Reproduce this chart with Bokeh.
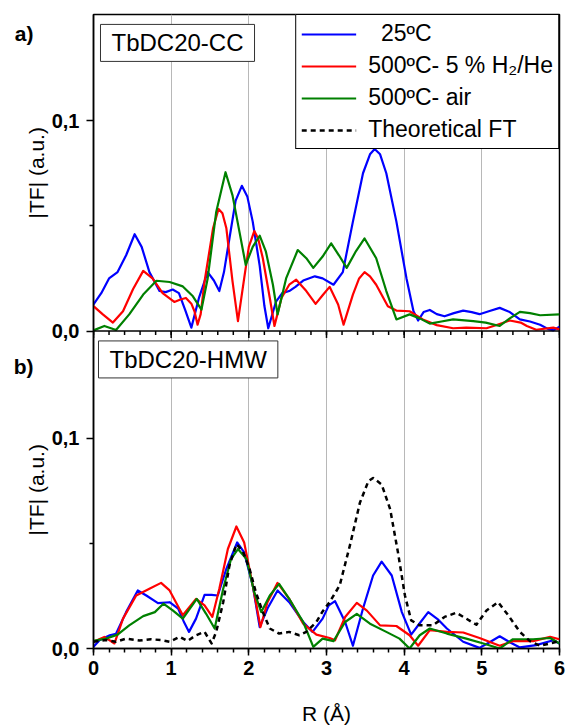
from bokeh.plotting import figure
from bokeh.models import (Range1d, FixedTicker, LinearAxis, Label, Span, CustomJSTickFormatter)
from bokeh.embed import file_html
from bokeh.resources import INLINE

FONT = "Liberation Sans"

# ---------------- data: panel a) TbDC20-CC ----------------
cc_25_r = [0, 0.1, 0.2, 0.31, 0.42, 0.53, 0.62, 0.72, 0.85, 0.93, 1.02, 1.1, 1.18, 1.26, 1.36, 1.47,
           1.55, 1.62, 1.68, 1.75, 1.83, 1.91, 1.98, 2.05, 2.14, 2.2, 2.25, 2.35, 2.43, 2.52, 2.6, 2.7,
           2.85, 2.95, 3.09, 3.21, 3.34, 3.47, 3.56, 3.62, 3.69, 3.77, 3.9, 4.03, 4.12, 4.18, 4.25, 4.33,
           4.42, 4.52, 4.64, 4.76, 4.87, 4.97, 5.1, 5.23, 5.36, 5.49, 5.62, 5.75, 5.85, 5.92, 6.0]
cc_25_v = [0.0126, 0.018, 0.025, 0.028, 0.036, 0.046, 0.040, 0.028, 0.019, 0.0185, 0.0197, 0.018, 0.010,
           0.0016, 0.016, 0.028, 0.024, 0.019, 0.028, 0.044, 0.062, 0.069, 0.064, 0.052, 0.031, 0.012,
           0.0013, 0.014, 0.018, 0.019, 0.021, 0.024, 0.026, 0.025, 0.022, 0.028, 0.052, 0.075, 0.084,
           0.0865, 0.084, 0.075, 0.052, 0.025, 0.0094, 0.005, 0.009, 0.010, 0.008, 0.007, 0.0085, 0.0097,
           0.009, 0.008, 0.0095, 0.011, 0.009, 0.0055, 0.0045, 0.003, 0.001, 0.0003, 0.002]

cc_h2_r = [0, 0.12, 0.25, 0.38, 0.51, 0.64, 0.76, 0.89, 1.04, 1.12, 1.19, 1.26, 1.3, 1.34, 1.38, 1.43,
           1.54, 1.61, 1.66, 1.71, 1.79, 1.86, 1.94, 2.0, 2.07, 2.12, 2.18, 2.27, 2.33, 2.42, 2.52, 2.61,
           2.74, 2.86, 2.95, 3.04, 3.15, 3.22, 3.34, 3.42, 3.49, 3.56, 3.64, 3.79, 3.9, 4.07, 4.24, 4.42,
           4.63, 4.8, 5.06, 5.2, 5.36, 5.5, 5.58, 5.7, 5.92, 6.0]
cc_h2_v = [0.0118, 0.0079, 0.004, 0.0094, 0.020, 0.0286, 0.025, 0.018, 0.0138, 0.015, 0.0157, 0.013,
           0.0094, 0.003, 0.008, 0.0236, 0.049, 0.058, 0.056, 0.049, 0.0236, 0.0047, 0.025, 0.040, 0.0475,
           0.044, 0.0346, 0.0157, 0.0024, 0.0157, 0.022, 0.0244, 0.019, 0.0129, 0.017, 0.021, 0.0126,
           0.003, 0.0173, 0.025, 0.028, 0.026, 0.022, 0.0118, 0.0097, 0.0094, 0.0055, 0.0028, 0.0013,
           0.0016, 0.0013, 0.003, 0.005, 0.004, 0.0024, 0.0006, 0.0016, 0.0008]

cc_air_r = [0, 0.14, 0.29, 0.46, 0.64, 0.81, 0.98, 1.15, 1.28, 1.39, 1.47, 1.58, 1.7, 1.79, 1.88, 1.96,
            2.05, 2.14, 2.22, 2.31, 2.37, 2.48, 2.63, 2.74, 2.83, 2.95, 3.06, 3.16, 3.26, 3.38, 3.49, 3.64,
            3.77, 3.9, 4.07, 4.2, 4.33, 4.48, 4.63, 4.89, 5.05, 5.23, 5.36, 5.49, 5.62, 5.75, 6.0]
cc_air_v = [0.0003, 0.0024, 0.0005, 0.0079, 0.0173, 0.0239, 0.0233, 0.0212, 0.0165, 0.0102, 0.025,
            0.0566, 0.0755, 0.0645, 0.047, 0.0314, 0.040, 0.0453, 0.0377, 0.022, 0.0079, 0.025, 0.0385,
            0.0346, 0.030, 0.0354, 0.0417, 0.036, 0.030, 0.038, 0.044, 0.0346, 0.019, 0.0055, 0.0079,
            0.006, 0.0035, 0.0045, 0.0055, 0.0047, 0.004, 0.0024, 0.006, 0.0091, 0.0085, 0.0075, 0.0079]

# ---------------- data: panel b) TbDC20-HMW ----------------
hmw_25_r = [0, 0.08, 0.21, 0.29, 0.42, 0.57, 0.68, 0.83, 0.98, 1.09, 1.16, 1.23, 1.32, 1.43, 1.52, 1.6,
            1.71, 1.85, 1.94, 2.05, 2.14, 2.24, 2.37, 2.52, 2.7, 2.82, 2.95, 3.03, 3.11, 3.24, 3.34, 3.47,
            3.6, 3.71, 3.84, 3.97, 4.09, 4.2, 4.31, 4.43, 4.55, 4.76, 4.97, 5.1, 5.23, 5.36, 5.49, 5.7,
            5.92, 6.0]
hmw_25_v = [0.0008, 0.004, 0.0063, 0.007, 0.0173, 0.0276, 0.0252, 0.0216, 0.022, 0.019, 0.013, 0.0079,
            0.0142, 0.0255, 0.0255, 0.0252, 0.0378, 0.0504, 0.0457, 0.030, 0.0102, 0.019, 0.0276, 0.022,
            0.0126, 0.0079, 0.0142, 0.0205, 0.0225, 0.0126, 0.0013, 0.019, 0.0347, 0.0413, 0.0347,
            0.0173, 0.0066, 0.012, 0.0173, 0.014, 0.0095, 0.0032, 0.0003, 0.003, 0.0058, 0.003, 0.0005,
            0.0016, 0.0039, 0.0024]

hmw_h2_r = [0, 0.14, 0.27, 0.38, 0.55, 0.72, 0.87, 0.98, 1.15, 1.32, 1.43, 1.53, 1.62, 1.73, 1.84, 1.94,
            2.05, 2.15, 2.24, 2.37, 2.52, 2.7, 2.87, 3.04, 3.11, 3.24, 3.39, 3.52, 3.69, 3.9, 4.07, 4.18,
            4.33, 4.55, 4.76, 4.97, 5.23, 5.4, 5.66, 5.88, 6.0]
hmw_h2_v = [0.0032, 0.0055, 0.0024, 0.0142, 0.0252, 0.0284, 0.0312, 0.0276, 0.0158, 0.0236, 0.0205,
            0.015, 0.0284, 0.0473, 0.058, 0.0504, 0.030, 0.0102, 0.022, 0.0312, 0.0236, 0.0118, 0.0066,
            0.005, 0.0039, 0.015, 0.0217, 0.018, 0.011, 0.0107, 0.0063, 0.0013, 0.0087, 0.0079, 0.0076,
            0.005, 0.0013, 0.0035, 0.0035, 0.0055, 0.0044]

hmw_air_r = [0, 0.16, 0.31, 0.46, 0.64, 0.79, 0.9, 1.02, 1.15, 1.33, 1.45, 1.56, 1.67, 1.77, 1.86, 1.97,
             2.07, 2.16, 2.27, 2.39, 2.52, 2.7, 2.83, 2.95, 3.09, 3.24, 3.39, 3.56, 3.77, 3.94, 4.07, 4.2,
             4.33, 4.55, 4.8, 5.02, 5.23, 5.4, 5.66, 5.88, 6.0]
hmw_air_v = [0.0036, 0.0047, 0.0066, 0.011, 0.0154, 0.0173, 0.0213, 0.0181, 0.0142, 0.0236, 0.0165,
             0.0095, 0.0284, 0.0425, 0.0473, 0.0425, 0.0268, 0.0173, 0.0252, 0.0307, 0.0236, 0.0126,
             0.0008, 0.0047, 0.0035, 0.0126, 0.0165, 0.0118, 0.0079, 0.0047, 0.0, 0.0063, 0.0095, 0.0071,
             0.0047, 0.0024, 0.0, 0.0044, 0.0044, 0.005, 0.0024]

hmw_theo_r = [0, 0.16, 0.29, 0.42, 0.59, 0.74, 0.87, 0.98, 1.11, 1.21, 1.32, 1.43, 1.52, 1.58, 1.67, 1.75,
              1.84, 1.92, 2.01, 2.09, 2.18, 2.27, 2.39, 2.52, 2.65, 2.74, 2.87, 2.95, 3.04, 3.17, 3.3,
              3.43, 3.54, 3.6, 3.71, 3.82, 3.92, 4.01, 4.09, 4.2, 4.37, 4.52, 4.67, 4.8, 4.93, 5.06,
              5.21, 5.34, 5.49, 5.62, 5.75, 5.88, 6.0]
hmw_theo_v = [0.0032, 0.004, 0.0032, 0.0047, 0.0038, 0.0044, 0.004, 0.0032, 0.0055, 0.0036, 0.0063,
              0.0079, 0.0024, 0.0079, 0.022, 0.0394, 0.0496, 0.0465, 0.0378, 0.0268, 0.0173, 0.0095,
              0.0071, 0.0079, 0.0063, 0.0079, 0.0126, 0.0176, 0.022, 0.030, 0.0488, 0.0693, 0.0796,
              0.0811, 0.078, 0.0662, 0.0457, 0.0252, 0.0134, 0.011, 0.011, 0.015, 0.017, 0.0142, 0.0113,
              0.0181, 0.022, 0.0158, 0.0079, 0.0035, 0.0013, 0.0024, 0.0035]

# ---------------- axes / labels ----------------
x_major = [0, 1, 2, 3, 4, 5, 6]
x_minor = [i / 5 for i in range(31)]
grid_ticks = [1, 2, 3, 4, 5]
y_major = [0.0, 0.1]
y_minor = [0.05]

series_names = ["\u00a0\u00a025ºC", "500ºC- 5 % H₂/He", "500ºC- air", "Theoretical FT"]
colors = ["#0000ff", "#ff0000", "#008000", "black"]
panel_names = ["TbDC20-CC", "TbDC20-HMW"]
panel_letters = ["a)", "b)"]
y_title = "|TF| (a.u.)"

# layout of the two stacked panels (panel a sits on top of panel b, same scale)
W, H = 566, 727
FRAME_L, FRAME_R, FRAME_T, FRAME_B = 93, 559, 14, 653
FRAME_H = FRAME_B - FRAME_T
PX = 2120.0                      # pixels per unit of |TF|
OFF = (FRAME_B - 333) / PX       # panel a zero line, in panel-b units
Y_END = FRAME_H / PX

p = figure(width=W, height=H, x_range=Range1d(0, 6), y_range=Range1d(0, Y_END),
           output_backend="svg", toolbar_location=None,
           min_border_left=FRAME_L, min_border_right=W - FRAME_R,
           min_border_top=FRAME_T, min_border_bottom=H - FRAME_B)
p.extra_y_ranges = {"top": Range1d(-OFF, Y_END - OFF)}
p.outline_line_color = "black"
p.outline_line_width = 1.5
p.outline_line_alpha = 1
p.background_fill_color = "white"
p.border_fill_color = "white"
p.ygrid.visible = False
p.xgrid.ticker = FixedTicker(ticks=grid_ticks)
p.xgrid.grid_line_color = "#b8b8b8"
p.xgrid.grid_line_width = 1

# main y axis: tick labels of both panels
ya = p.yaxis[0]
ya.ticker = FixedTicker(ticks=y_major + [v + OFF for v in y_major],
                        minor_ticks=y_minor + [v + OFF for v in y_minor])
ya.formatter = CustomJSTickFormatter(args=dict(off=OFF), code="""
    let v = tick;
    if (v > off - 1e-6) { v = v - off; }
    return Math.abs(v).toFixed(1).replace('.', ',');
""")
ya.major_tick_out = 7
ya.major_tick_in = 0
ya.minor_tick_out = 4
ya.minor_tick_in = 0
ya.axis_line_width = 1.5
ya.major_tick_line_width = 1.5
ya.minor_tick_line_width = 1.5
ya.major_label_text_font = FONT
ya.major_label_text_font_size = "20px"
ya.major_label_text_font_style = "bold"
ya.major_label_text_color = "black"
ya.major_label_standoff = 7

# y titles, one per panel, centred on each panel
title_pos = [(FRAME_B - (FRAME_T + 333) / 2) / PX, (FRAME_B - (333 + FRAME_B) / 2) / PX]
yt = LinearAxis(ticker=FixedTicker(ticks=title_pos, minor_ticks=[]),
                formatter=CustomJSTickFormatter(args=dict(t=y_title), code="return t;"),
                major_tick_out=0, major_tick_in=0, minor_tick_out=0, minor_tick_in=0,
                axis_line_color=None, major_label_orientation="vertical",
                major_label_standoff=0, major_label_text_font=FONT,
                major_label_text_font_size="21px", major_label_text_color="black")
p.add_layout(yt, "left")

# panel letters a), b)
letter_pos = [(FRAME_B - 33.5) / PX, (FRAME_B - 369) / PX]
yl = LinearAxis(ticker=FixedTicker(ticks=letter_pos, minor_ticks=[]),
                formatter=CustomJSTickFormatter(args=dict(pos=letter_pos, names=panel_letters), code="""
                    let best = 0;
                    for (let i = 0; i < pos.length; i++) {
                        if (Math.abs(pos[i] - tick) < Math.abs(pos[best] - tick)) { best = i; }
                    }
                    return names[best];
                """),
                major_tick_out=0, major_tick_in=0, minor_tick_out=0, minor_tick_in=0,
                axis_line_color=None, major_label_standoff=-11, major_label_text_font=FONT,
                major_label_text_font_size="21px", major_label_text_font_style="bold",
                major_label_text_color="black")
p.add_layout(yl, "left")

# x axis
xa = p.xaxis[0]
xa.ticker = FixedTicker(ticks=x_major, minor_ticks=x_minor)
xa.major_tick_out = 7
xa.major_tick_in = 0
xa.minor_tick_out = 4
xa.minor_tick_in = 0
xa.axis_line_width = 1.5
xa.major_tick_line_width = 1.5
xa.minor_tick_line_width = 1.5
xa.major_label_text_font = FONT
xa.major_label_text_font_size = "20px"
xa.major_label_text_font_style = "bold"
xa.major_label_text_color = "black"
xa.major_label_standoff = 5
xa.axis_label = "R (Å)"
xa.axis_label_text_font = FONT
xa.axis_label_text_font_size = "21px"
xa.axis_label_text_font_style = "normal"
xa.axis_label_text_color = "black"
xa.axis_label_standoff = 24

# panel a) bottom axis line with ticks pointing down into panel b)
p.add_layout(Span(location=OFF, dimension="width", line_color="black", line_width=1.5))
p.segment(x0=x_major, y0=[0] * len(x_major), x1=x_major, y1=[-7 / PX] * len(x_major),
          y_range_name="top", line_color="black", line_width=1.5)
p.segment(x0=x_minor, y0=[0] * len(x_minor), x1=x_minor, y1=[-4 / PX] * len(x_minor),
          y_range_name="top", line_color="black", line_width=1.5)

# ---------------- curves ----------------
p.line(cc_25_r, cc_25_v, y_range_name="top", color=colors[0], line_width=2.2, line_join="round",
       legend_label=series_names[0])
p.line(cc_h2_r, cc_h2_v, y_range_name="top", color=colors[1], line_width=2.2, line_join="round",
       legend_label=series_names[1])
p.line(cc_air_r, cc_air_v, y_range_name="top", color=colors[2], line_width=2.2, line_join="round",
       legend_label=series_names[2])

p.line(hmw_25_r, hmw_25_v, color=colors[0], line_width=2.2, line_join="round")
p.line(hmw_h2_r, hmw_h2_v, color=colors[1], line_width=2.2, line_join="round")
p.line(hmw_air_r, hmw_air_v, color=colors[2], line_width=2.2, line_join="round")
p.line(hmw_theo_r, hmw_theo_v, color=colors[3], line_width=2.5, line_dash="5 4", line_join="round",
       legend_label=series_names[3])

lg = p.legend[0]
lg.location = "top_right"
lg.margin = 0
lg.padding = 5
lg.spacing = 5
lg.glyph_width = 55
lg.glyph_height = 26
lg.label_height = 26
lg.label_standoff = 12
lg.label_text_font = FONT
lg.label_text_font_size = "23px"
lg.label_text_color = "black"
lg.border_line_color = "black"
lg.border_line_width = 1
lg.border_line_alpha = 1
lg.background_fill_alpha = 1

# panel name boxes
p.add_layout(Label(x=(100 - FRAME_L) / 77.67, y=(333 - 24) / PX, y_range_name="top",
                   text=panel_names[0], anchor="top_left",
                   text_font=FONT, text_font_size="24px", text_color="black",
                   border_line_color="#333333", border_line_width=1,
                   background_fill_color="white", padding=(11, 5)))
p.add_layout(Label(x=(98 - FRAME_L) / 77.67, y=(FRAME_B - 343) / PX,
                   text=panel_names[1], anchor="top_left",
                   text_font=FONT, text_font_size="24px", text_color="black",
                   border_line_color="#333333", border_line_width=1,
                   background_fill_color="white", padding=(11, 5)))

open("out.html", "w").write(file_html(p, INLINE))
